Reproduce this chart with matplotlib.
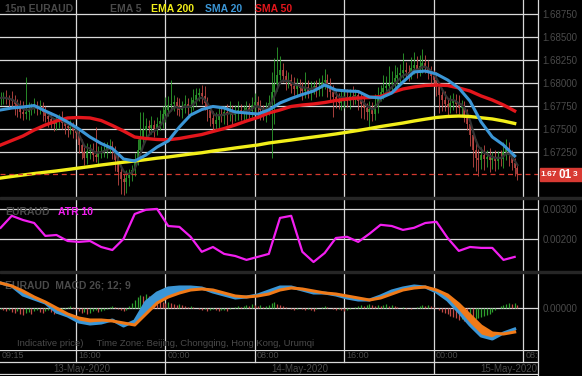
import matplotlib
matplotlib.use("Agg")
import matplotlib.pyplot as plt
import numpy as np
import pandas as pd
from matplotlib.lines import Line2D
from matplotlib.patches import Rectangle

plt.rcParams["font.family"] = ["Liberation Sans", "DejaVu Sans"]

# 15-minute EURAUD bars from 13-May-2020 09:15 (bar index = x position)
closes = [
    1.67837, 1.67848, 1.67826, 1.67815, 1.67804, 1.67772, 1.67728, 1.67685, 1.67663, 1.67685,
    1.67717, 1.67728, 1.67750, 1.67728, 1.67750, 1.67685, 1.67641, 1.67609, 1.67576, 1.67554,
    1.67587, 1.67609, 1.67565, 1.67533, 1.67511, 1.67522, 1.67478, 1.67456, 1.67326, 1.67250,
    1.67185, 1.67261, 1.67272, 1.67217, 1.67196, 1.67250, 1.67261, 1.67272, 1.67304, 1.67315,
    1.67272, 1.67163, 1.67033, 1.66957, 1.66924, 1.66967, 1.67000, 1.67054, 1.67163, 1.67272,
    1.67402, 1.67489, 1.67533, 1.67511, 1.67543, 1.67500, 1.67554, 1.67587, 1.67663, 1.67706,
    1.67761, 1.67772, 1.67793, 1.67750, 1.67706, 1.67739, 1.67772, 1.67728, 1.67761, 1.67815,
    1.67869, 1.67891, 1.67859, 1.67782, 1.67706, 1.67619, 1.67554, 1.67598, 1.67663, 1.67641,
    1.67685, 1.67663, 1.67696, 1.67652, 1.67685, 1.67706, 1.67674, 1.67706, 1.67728, 1.67696,
    1.67761, 1.67793, 1.67750, 1.67706, 1.67674, 1.67717, 1.67782, 1.67902, 1.67989, 1.68087,
    1.68141, 1.68076, 1.68011, 1.68032, 1.67967, 1.67935, 1.67978, 1.67945, 1.67913, 1.67956,
    1.67902, 1.67935, 1.67967, 1.67924, 1.67956, 1.68011, 1.68032, 1.67967, 1.67902, 1.67848,
    1.67815, 1.67782, 1.67826, 1.67848, 1.67804, 1.67859, 1.67837, 1.67869, 1.67804, 1.67772,
    1.67728, 1.67685, 1.67717, 1.67663, 1.67761, 1.67859, 1.67902, 1.67945, 1.67967, 1.67989,
    1.68011, 1.68054, 1.68087, 1.68109, 1.68141, 1.68119, 1.68098, 1.68163, 1.68195, 1.68141,
    1.68185, 1.68217, 1.68174, 1.68130, 1.68076, 1.68032, 1.67956, 1.67869, 1.67815, 1.67772,
    1.67739, 1.67782, 1.67815, 1.67772, 1.67728, 1.67750, 1.67652, 1.67554, 1.67435, 1.67272,
    1.67185, 1.67163, 1.67217, 1.67174, 1.67196, 1.67163, 1.67185, 1.67152, 1.67196, 1.67174,
    1.67250, 1.67293, 1.67217, 1.67130, 1.67076, 1.67013,
]
first_open = 1.67826

# wick lengths beyond the body, in pips
wick_up = [
    6, 5, 8, 4, 10, 7, 5, 9, 12, 38,
    8, 6, 9, 5, 7, 4, 6, 5, 8, 4,
    7, 5, 9, 6, 4, 8, 5, 6, 4, 7,
    5, 9, 6, 8, 30, 7, 5, 9, 6, 8,
    5, 4, 6, 8, 5, 9, 7, 6, 8, 12,
    28, 20, 9, 7, 10, 6, 8, 12, 9, 14,
    10, 26, 8, 6, 9, 7, 10, 6, 9, 12,
    8, 6, 9, 11, 7, 5, 8, 9, 6, 8,
    7, 9, 11, 6, 8, 10, 7, 5, 8, 6,
    9, 10, 7, 6, 5, 8, 9, 22, 28, 30,
    15, 8, 6, 9, 7, 10, 8, 6, 7, 16,
    8, 9, 6, 7, 10, 8, 12, 7, 9, 8,
    6, 8, 10, 7, 9, 8, 11, 7, 6, 9,
    7, 6, 9, 8, 12, 10, 8, 14, 11, 20,
    12, 14, 9, 10, 18, 9, 8, 12, 14, 10,
    12, 15, 9, 8, 6, 7, 9, 6, 8, 10,
    7, 9, 8, 6, 10, 7, 5, 6, 4, 5,
    12, 10, 9, 11, 8, 10, 7, 9, 6, 8,
    11, 10, 7, 5, 6, 4,
]
wick_dn = [
    7, 6, 5, 9, 8, 12, 10, 7, 6, 5,
    9, 7, 5, 8, 6, 10, 7, 9, 6, 8,
    6, 8, 7, 9, 10, 6, 8, 7, 9, 8,
    8, 6, 9, 7, 5, 8, 6, 7, 9, 6,
    10, 12, 14, 16, 14, 12, 9, 7, 6, 5,
    6, 7, 9, 8, 6, 9, 7, 6, 8, 9,
    7, 6, 8, 10, 7, 9, 6, 8, 7, 5,
    6, 7, 9, 8, 12, 9, 7, 8, 10, 7,
    9, 12, 8, 10, 7, 9, 8, 10, 12, 8,
    7, 9, 13, 11, 8, 10, 7, 60, 35, 8,
    5, 7, 9, 6, 8, 7, 9, 6, 10, 8,
    7, 9, 6, 8, 7, 10, 8, 12, 9, 22,
    9, 7, 8, 10, 6, 9, 8, 7, 10, 15,
    12, 9, 16, 8, 7, 9, 6, 8, 7, 6,
    8, 6, 7, 9, 5, 7, 8, 6, 7, 9,
    6, 8, 7, 9, 8, 7, 10, 20, 12, 8,
    9, 7, 8, 10, 7, 9, 8, 7, 12, 18,
    14, 17, 10, 12, 9, 13, 10, 11, 9, 8,
    10, 9, 12, 8, 9, 7,
]

# hourly samples of the indicator lines (every 4th bar)
line_bars = list(range(0, 185, 4))
ema200 = [1.66967, 1.66984, 1.67000, 1.67016, 1.67030, 1.67044, 1.67060, 1.67076, 1.67092, 1.67109,
          1.67124, 1.67139, 1.67152, 1.67167, 1.67183, 1.67196, 1.67212, 1.67228, 1.67242, 1.67261,
          1.67277, 1.67294, 1.67310, 1.67326, 1.67348, 1.67364, 1.67380, 1.67397, 1.67413, 1.67429,
          1.67446, 1.67465, 1.67484, 1.67505, 1.67527, 1.67546, 1.67565, 1.67587, 1.67607, 1.67625,
          1.67636, 1.67641, 1.67636, 1.67622, 1.67609, 1.67587, 1.67560]
sma50 = [1.67326, 1.67375, 1.67424, 1.67489, 1.67544, 1.67587, 1.67620, 1.67625, 1.67620, 1.67592,
         1.67538, 1.67478, 1.67413, 1.67397, 1.67386, 1.67383, 1.67397, 1.67419, 1.67440, 1.67473,
         1.67505, 1.67544, 1.67587, 1.67625, 1.67674, 1.67707, 1.67745, 1.67761, 1.67772, 1.67788,
         1.67810, 1.67826, 1.67837, 1.67842, 1.67853, 1.67897, 1.67935, 1.67957, 1.67973, 1.67978,
         1.67973, 1.67946, 1.67913, 1.67859, 1.67815, 1.67761, 1.67696]
sma20 = [1.67707, 1.67728, 1.67739, 1.67755, 1.67696, 1.67641, 1.67576, 1.67500, 1.67413, 1.67342,
         1.67288, 1.67174, 1.67152, 1.67217, 1.67304, 1.67370, 1.67522, 1.67652, 1.67712, 1.67745,
         1.67728, 1.67685, 1.67674, 1.67663, 1.67707, 1.67783, 1.67832, 1.67875, 1.67913, 1.67978,
         1.67924, 1.67913, 1.67908, 1.67848, 1.67837, 1.67891, 1.68011, 1.68120, 1.68130, 1.68098,
         1.68033, 1.67946, 1.67804, 1.67576, 1.67413, 1.67326, 1.67207]
atr10 = [0.00237, 0.00277, 0.00263, 0.00253, 0.00210, 0.00213, 0.00193, 0.00190, 0.00193, 0.00173,
         0.00163, 0.00200, 0.00283, 0.00297, 0.00300, 0.00243, 0.00240, 0.00207, 0.00157, 0.00173,
         0.00150, 0.00143, 0.00130, 0.00140, 0.00150, 0.00270, 0.00277, 0.00157, 0.00123, 0.00153,
         0.00203, 0.00207, 0.00190, 0.00217, 0.00247, 0.00243, 0.00230, 0.00237, 0.00253, 0.00257,
         0.00203, 0.00160, 0.00173, 0.00170, 0.00170, 0.00130, 0.00140]
# MACD values in points (1 point = 0.00001)
macd_pts = [25, 22, 13, 9, 5, -4, -8, -14, -16, -15, -12, -18, -13, 6, 15, 20, 21, 21, 20, 16,
            13, 10, 11, 13, 17, 21, 21, 18, 15, 15, 13, 10, 8, 8, 12, 17, 20, 22, 21, 16,
            8, -4, -17, -28, -31, -25, -21]
signal_pts = [25, 22, 17, 11, 6, 0, -6, -10, -12, -12, -13, -15, -17, -6, 5, 11, 15, 18, 19, 18,
              15, 12, 11, 12, 14, 18, 20, 19, 17, 15, 14, 12, 10, 8, 10, 14, 18, 20, 21, 18,
              13, 4, -7, -18, -25, -26, -24]
hist_pts = [
    -1, -2, -3, -2, -4, -5, -3, -6, -7, -5, -4, -6, -3, -2, -4, -5, -3, -2, -4, -6,
    -5, -3, -2, -1, 1, 2, 1, -1, -3, -5, -4, -6, -5, -3, -2, -4, -3, -2, -1, 1,
    2, 1, -1, -2, -3, -2, 2, 5, 8, 11, 13, 12, 14, 12, 10, 9, 8, 7, 6, 5,
    6, 5, 4, 3, 4, 3, 2, 1, 2, 1, 0, -1, -2, -1, -3, -2, -1, -2, -3, -2,
    -2, -3, -1, 0, 1, 2, 1, 2, 3, 2, 4, 3, 2, 3, 1, 2, 3, 5, 6, 4,
    3, 2, 1, 0, -1, -2, -1, 0, -1, -2, -1, -2, -3, -1, 0, 1, 2, 1, 0, -1,
    -2, -1, -2, -3, -2, -1, 0, 1, 2, 3, 2, 3, 4, 3, 2, 3, 2, 3, 4, 2,
    3, 2, 1, 0, 1, -1, 0, -1, 0, 1, 2, 3, 2, 3, 2, 1, 0, -2, -4, -5,
    -6, -8, -9, -10, -12, -11, -13, -14, -12, -13, -11, -10, -9, -8, -7, -6, -4, -2, 0, 2,
    3, 4, 5, 4, 5, 3,
]

price_ticks = [1.6725, 1.6750, 1.6775, 1.6800, 1.6825, 1.6850, 1.6875]
atr_ticks = [0.002, 0.003]
grid_bars = [27, 59, 91, 123, 155, 187]
time_labels = ["16:00", "00:00", "08:00", "16:00", "00:00", "08:00"]
day_breaks = [59, 155]
day_labels = ["13-May-2020", "14-May-2020", "15-May-2020"]

W, H = 582, 376
BG = "black"
GRID = "#d9d9d9"
DIM = "#4a4a4a"
GREEN = "#2ea02e"
RED_C = "#c24a46"
XLIM = (-0.22, 192.35)

fig = plt.figure(figsize=(W / 100, H / 100), dpi=100, facecolor=BG)


def px_axes(x0, y0, x1, y1):
    ax = fig.add_axes([x0 / W, 1 - y1 / H, (x1 - x0) / W, (y1 - y0) / H])
    ax.set_facecolor(BG)
    for s in ax.spines.values():
        s.set_visible(False)
    ax.set_xlim(*XLIM)
    ax.set_xticks([])
    ax.yaxis.tick_right()
    ax.tick_params(axis="y", length=0, pad=3, labelsize=7, labelcolor=DIM)
    for b in grid_bars:
        ax.axvline(b, color=GRID, lw=0.9, zorder=0)
    return ax


# ---- price panel ----
ax = px_axes(0, 0, 538, 197)
ax.set_ylim(1.66761, 1.68902)
ax.set_yticks(price_ticks)
ax.set_yticklabels([f"{t:.5f}" for t in price_ticks])
for t in price_ticks:
    ax.axhline(t, color=GRID, lw=0.9, zorder=0)

x = np.arange(len(closes))
c = np.array(closes)
o = np.array([first_open] + closes[:-1])
hi = np.maximum(o, c) + np.array(wick_up) * 0.0001
lo = np.minimum(o, c) - np.array(wick_dn) * 0.0001
col = np.where(c >= o, GREEN, RED_C)
ax.vlines(x, lo, hi, colors=col, lw=0.6, zorder=2)
ax.vlines(x, o, c, colors=col, lw=1.1, zorder=2)

ema5 = pd.Series(closes).ewm(span=5, adjust=False).mean()
ax.plot(x, ema5, color="#333333", lw=1.6, zorder=3)
ax.plot(line_bars, ema200, color="#f2ee1a", lw=2.4, zorder=4)
ax.plot(line_bars, sma50, color="#e3161c", lw=2.4, zorder=4)
ax.plot(line_bars, sma20, color="#3b96d6", lw=2.2, zorder=5)
ax.axhline(closes[-1], color="#d6392f", lw=0.9, dashes=(4, 3), zorder=6)

# ---- ATR panel ----
ax2 = px_axes(0, 199, 538, 271)
ax2.set_ylim(0.00093, 0.00333)
ax2.set_yticks(atr_ticks)
ax2.set_yticklabels([f"{t:.5f}" for t in atr_ticks])
for t in atr_ticks:
    ax2.axhline(t, color=GRID, lw=0.9, zorder=0)
ax2.plot(line_bars, atr10, color="#f21ef0", lw=1.6, zorder=3)

# ---- MACD panel ----
ax3 = px_axes(0, 273, 538, 351)
ax3.set_ylim(-43e-5, 35e-5)
ax3.set_yticks([0.0])
ax3.set_yticklabels(["0.00000"])
ax3.axhline(0, color=GRID, lw=0.9, zorder=0)
m = np.array(macd_pts) * 1e-5
s = np.array(signal_pts) * 1e-5
h = np.array(hist_pts) * 1e-5
prev = np.concatenate([[h[0]], h[:-1]])
hcol = np.where(h >= prev, GREEN, RED_C)
ax3.vlines(x, 0, h, colors=hcol, lw=0.9, zorder=2)
ax3.fill_between(line_bars, m, s, where=m >= s, color="#3b96d6", lw=0, zorder=3, interpolate=True)
ax3.fill_between(line_bars, m, s, where=m < s, color="#f07a18", lw=0, zorder=3, interpolate=True)
ax3.plot(line_bars, m, color="#3b96d6", lw=2.2, zorder=4)
ax3.plot(line_bars, s, color="#f07a18", lw=2.2, zorder=4)
ax3.text(1.5, 23e-5, "EURAUD  MACD 26; 12; 9", color=DIM, fontsize=7.5, fontweight="bold",
         va="center", zorder=1)

# ---- time axis rows ----
ax4 = fig.add_axes([0, 1 / H, 538 / W, 25 / H])
ax4.set_facecolor(BG)
ax4.axis("off")
ax4.set_xlim(*XLIM)
ax4.set_ylim(25, 0)
for yy in (0, 12, 24):
    ax4.axhline(yy, color=GRID, lw=0.9)
for b in grid_bars:
    ax4.plot([b, b], [0, 12], color=GRID, lw=0.9)
for b in day_breaks:
    ax4.plot([b, b], [12, 24], color=GRID, lw=0.9)
ax4.text(0.5, 6, "09:15", color=DIM, fontsize=6.5, va="center", ha="left")
for b, lab in zip(grid_bars, time_labels):
    ax4.text(b + 0.8, 6, lab, color=DIM, fontsize=6.5, va="center", ha="left", clip_on=True)
ax4.text(29, 18.5, day_labels[0], color=DIM, fontsize=7, va="center", ha="center")
ax4.text(107, 18.5, day_labels[1], color=DIM, fontsize=7, va="center", ha="center")
ax4.text(192, 18.5, day_labels[2], color=DIM, fontsize=7, va="center", ha="right")

# panel separators and right border
for y0 in (197, 271):
    fig.patches.append(Rectangle((0, 1 - (y0 + 2) / H), 1, 2 / H, transform=fig.transFigure,
                                 color="#262626", zorder=5))
fig.lines.append(Line2D([538 / W, 538 / W], [1 / H, 1], transform=fig.transFigure,
                        color=GRID, lw=0.9))

# top legend
ty = 1 - 8.5 / H
fig.text(5 / W, ty, "15m EURAUD", color=DIM, fontsize=7.5, fontweight="bold", va="center")
fig.text(110 / W, ty, "EMA 5", color=DIM, fontsize=7.5, fontweight="bold", va="center")
fig.text(151 / W, ty, "EMA 200", color="#f2ee1a", fontsize=7.5, fontweight="bold", va="center")
fig.text(205 / W, ty, "SMA 20", color="#3b96d6", fontsize=7.5, fontweight="bold", va="center")
fig.text(255 / W, ty, "SMA 50", color="#e3161c", fontsize=7.5, fontweight="bold", va="center")

# ATR legend
ay = 1 - 212 / H
fig.text(5 / W, ay, "EURAUD", color=DIM, fontsize=7.5, fontweight="bold", va="center")
fig.text(58 / W, ay, "ATR 10", color="#f21ef0", fontsize=7.5, fontweight="bold", va="center")

fig.text(17 / W, 1 - 344 / H, "Indicative price)     Time Zone: Beijing, Chongqing, Hong Kong, Urumqi",
         color=DIM, fontsize=6.8, va="center")

# current price tag
fig.patches.append(Rectangle((540 / W, 1 - 181 / H), 42 / W, 13 / H, transform=fig.transFigure,
                             color="#d83a33", zorder=6))
py = 1 - 174.5 / H
fig.text(540.5 / W, py, "1.67", color="white", fontsize=6, fontweight="bold", va="center", zorder=7)
fig.text(558.5 / W, py, "01", color="white", fontsize=8.5, fontweight="bold", va="center", zorder=7)
fig.text(572.5 / W, py, "3", color="white", fontsize=6, fontweight="bold", va="center", zorder=7)

fig.savefig("out.png", dpi=100, facecolor=BG)
